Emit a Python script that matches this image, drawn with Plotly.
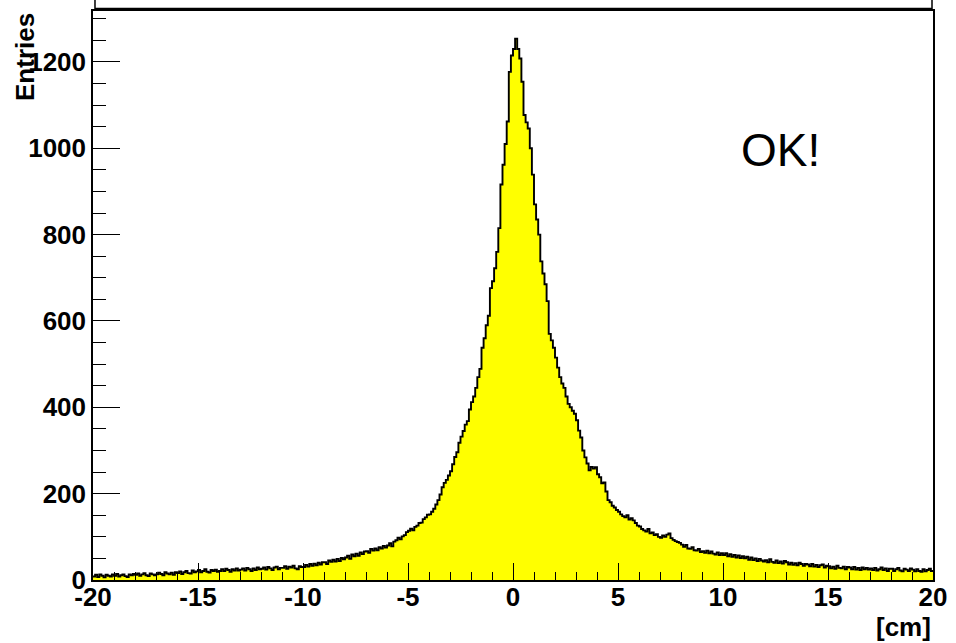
import numpy as np
import plotly.graph_objects as go

# Histogram: 400 bins of 0.1 cm from -20 to 20 cm
x_min, x_max, n_bins = -20.0, 20.0, 400
entries = [
    # -20 .. -10
    8, 12, 7, 13, 10, 6, 12, 10, 8, 13,
    10, 14, 8, 11, 13, 9, 7, 13, 11, 14,
    12, 15, 10, 13, 16, 11, 9, 15, 13, 11,
    13, 17, 14, 11, 18, 15, 13, 17, 12, 18,
    16, 20, 14, 18, 21, 16, 15, 22, 18, 20,
    23, 18, 21, 25, 19, 17, 23, 21, 24, 19,
    21, 25, 21, 26, 23, 19, 25, 22, 27, 22,
    24, 27, 22, 28, 25, 21, 27, 23, 29, 25,
    26, 29, 24, 30, 27, 23, 29, 31, 25, 28,
    28, 32, 26, 31, 29, 33, 27, 25, 32, 30,
    # -10 .. 0
    30, 35, 31, 37, 33, 38, 34, 40, 36, 41,
    41, 37, 45, 42, 47, 43, 49, 44, 51, 48,
    52, 56, 49, 59, 55, 61, 56, 64, 60, 66,
    67, 63, 72, 68, 73, 69, 76, 73, 79, 75,
    80, 85, 78, 89, 92, 98, 94, 101, 104, 111,
    114, 119, 115, 123, 126, 132, 133, 141, 145, 151,
    152, 158, 165, 175, 185, 198, 215, 225, 232, 242,
    252, 268, 285, 296, 318, 332, 345, 360, 368, 395,
    412, 425, 445, 470, 489, 538, 560, 590, 612, 676,
    692, 722, 760, 815, 916, 962, 1010, 1062, 1177, 1215,
    # 0 .. 10
    1230, 1254, 1230, 1208, 1154, 1077, 1060, 1046, 1000, 939,
    870, 835, 800, 738, 710, 685, 646, 570, 555, 538,
    515, 492, 470, 455, 445, 425, 408, 400, 392, 385,
    370, 346, 330, 300, 284, 270, 254, 262, 258, 261,
    245, 238, 224, 226, 205, 185, 180, 172, 168, 162,
    158, 152, 148, 145, 150, 140, 143, 138, 132, 126,
    124, 118, 115, 112, 118, 108, 110, 104, 106, 100,
    98, 103, 100, 105, 108, 97, 93, 90, 88, 86,
    82, 77, 81, 73, 72, 76, 69, 68, 72, 65,
    67, 63, 68, 62, 66, 61, 59, 64, 58, 62,
    # 10 .. 20
    58, 62, 55, 60, 54, 58, 52, 57, 51, 55,
    50, 54, 47, 52, 46, 50, 44, 49, 45, 43,
    46, 41, 48, 42, 40, 45, 39, 43, 38, 44,
    41, 36, 40, 35, 39, 34, 40, 37, 33, 37,
    36, 32, 37, 31, 35, 30, 34, 36, 29, 33,
    32, 27, 31, 26, 33, 28, 27, 31, 25, 30,
    29, 25, 30, 24, 28, 23, 29, 25, 28, 24,
    27, 23, 28, 22, 25, 29, 23, 27, 21, 26,
    26, 21, 25, 28, 22, 20, 26, 24, 21, 27,
    24, 20, 25, 21, 19, 25, 20, 23, 26, 21,
]

x_tick_vals = [-20, -15, -10, -5, 0, 5, 10, 15, 20]
x_tick_text = ["-20", "-15", "-10", "-5", "0", "5", "10", "15", "20"]
y_tick_vals = [0, 200, 400, 600, 800, 1000, 1200]
y_tick_text = ["0", "200", "400", "600", "800", "1000", "1200"]
y_title = "Entries"
x_title = "[cm]"
note_text = "OK!"

edges = np.linspace(x_min, x_max, n_bins + 1)
xs = list(edges[:-1]) + [edges[-1]]
ys = list(entries) + [entries[-1]]

FONT = "Liberation Sans, Arial, sans-serif"

fig = go.Figure()
fig.add_trace(go.Scatter(
    x=xs, y=ys, mode="lines", line=dict(shape="hv", color="black", width=1.9),
    fill="tozeroy", fillcolor="#ffff00", hoverinfo="skip", showlegend=False,
))

fig.update_layout(
    width=956, height=643,
    margin=dict(l=93, r=19, t=9, b=63),
    paper_bgcolor="white", plot_bgcolor="white",
    showlegend=False,
    xaxis=dict(
        range=[x_min, x_max], tickmode="array", tickvals=x_tick_vals, ticktext=x_tick_text,
        ticks="inside", ticklen=17, tickwidth=1.3, tickcolor="black",
        minor=dict(ticks="inside", ticklen=8, tickwidth=1.3, tickcolor="black", dtick=1, tick0=0),
        showline=True, linecolor="black", linewidth=1.5, mirror=True,
        showgrid=False, zeroline=False, ticklabelstandoff=-7,
        tickfont=dict(family=FONT, size=26, color="black", weight="bold"),
    ),
    yaxis=dict(
        range=[0, 1318], tickmode="array", tickvals=y_tick_vals, ticktext=y_tick_text,
        ticks="inside", ticklen=27, tickwidth=1.3, tickcolor="black",
        minor=dict(ticks="inside", ticklen=13, tickwidth=1.3, tickcolor="black", dtick=50, tick0=0),
        showline=True, linecolor="black", linewidth=1.5, mirror=True,
        showgrid=False, zeroline=False,
        tickfont=dict(family=FONT, size=26, color="black", weight="bold"),
    ),
)

# Y axis title (rotated, aligned to top end of the axis)
fig.add_annotation(
    text=y_title, textangle=-90, xref="paper", yref="paper", x=0, y=1,
    xanchor="center", yanchor="top", xshift=-68, yshift=0, showarrow=False,
    font=dict(family=FONT, size=26, color="black", weight="bold"),
)
# X axis title (right aligned under the axis)
fig.add_annotation(
    text=x_title, xref="paper", yref="paper", x=1, y=0,
    xanchor="right", yanchor="middle", yshift=-47, showarrow=False,
    font=dict(family=FONT, size=26, color="black", weight="bold"),
)
# OK! label
fig.add_annotation(
    text=note_text, xref="x", yref="y", x=12.75, y=995,
    xanchor="center", yanchor="middle", showarrow=False,
    font=dict(family=FONT, size=46, color="black"),
)
# Title box (mostly cut off at the top of the picture)
fig.add_shape(
    type="rect", xref="paper", yref="paper",
    x0=2 / 844, x1=843 / 844, y0=1 + 2.5 / 571, y1=1.2,
    line=dict(color="black", width=1.5), fillcolor="white", layer="above",
)

fig.write_html(
    "out.html",
    config={"displayModeBar": False},
    post_script="document.body.style.margin='0';",
)
